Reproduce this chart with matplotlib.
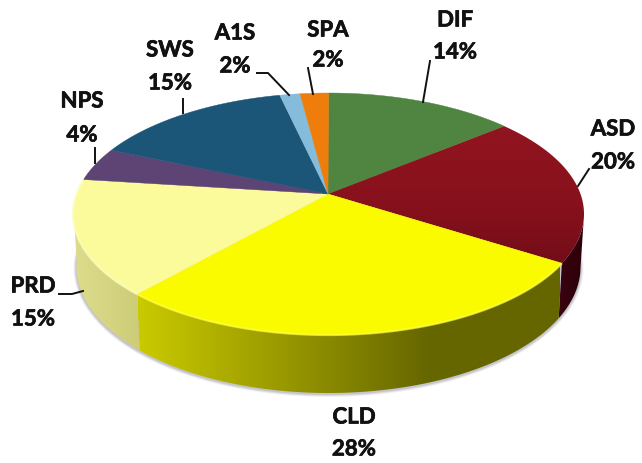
import numpy as np
import matplotlib
matplotlib.use("Agg")
import matplotlib.pyplot as plt
import matplotlib.patheffects as pe
from matplotlib.patches import Polygon
from matplotlib.colors import LinearSegmentedColormap

# slices clockwise from the top
names = ["DIF", "ASD", "CLD", "PRD", "NPS", "SWS", "A1S", "SPA"]
values = [14.0, 20.0, 27.6, 15.4, 4.49, 14.9, 1.5, 2.1]
pct_labels = ["14%", "20%", "28%", "15%", "4%", "15%", "2%", "2%"]
colors = ["#4f8540", "#8f1420", "#fbfb00", "#fbfb9c", "#5e4474", "#1b5578", "#85bcdc", "#ee7d0b"]

# label centres (name y, pct y) and leader lines
label_pos = {"DIF": (455, 20, 52), "ASD": (613, 129, 162), "CLD": (354, 417, 449),
             "PRD": (33, 286, 319), "NPS": (82, 101, 135), "SWS": (170, 50, 83),
             "A1S": (235, 33, 66), "SPA": (328, 30, 60)}
leaders = [[(430, 61), (423, 102)], [(589, 169), (578, 186)], [(308, 68), (313, 94)],
           [(257, 73), (268, 73), (289, 95)], [(183, 99), (183, 113)],
           [(95, 148), (95, 163)], [(59, 294), (72, 294), (83, 291)]]

# ellipse geometry
cx, cy, a, b = 328.5, 214, 255.5, 121
cx2, cy2, a2, b2 = 328.5, 267, 252, 126
d = 0.165  # pie centre sits above the ellipse centre (perspective)


def warp(theta):
    # true angle -> position on the unit ellipse
    x, y = np.sin(theta), np.cos(theta)
    den = 1 + d * y
    return x * np.sqrt(1 - d ** 2) / den, (y + d) / den


def top_pts(u, v):
    return np.column_stack([cx + a * u, cy - b * v])


def bottom_pts(u, v):
    return np.column_stack([cx2 + a2 * u, cy2 - b2 * v])


def gradient(ax, poly, stops, lims, horizontal=True, z=2):
    cmap = LinearSegmentedColormap.from_list("g", stops)
    grad = np.linspace(0, 1, 256)
    if horizontal:
        img = grad[None, :]
        ext = (lims[0], lims[1], 463, 0)
    else:
        img = grad[:, None]
        ext = (0, 642, lims[1], lims[0])
    im = ax.imshow(img, cmap=cmap, extent=ext, aspect="auto", zorder=z, origin="upper")
    patch = Polygon(poly, closed=True, fc="none", ec="none", transform=ax.transData)
    ax.add_patch(patch)
    im.set_clip_path(patch)


fig = plt.figure(figsize=(6.42, 4.63), dpi=100)
ax = fig.add_axes([0, 0, 1, 1])

edges = np.cumsum([0] + values) / sum(values) * 2 * np.pi

# soft shadow under the wall
t = np.linspace(0, 2 * np.pi, 300)
for grow, alpha in [(3, 0.08), (2, 0.12), (1, 0.18)]:
    ax.add_patch(Polygon(np.column_stack([cx2 + (a2 + grow) * np.sin(t), cy2 + 1 - (b2 + grow) * np.cos(t)]),
                         closed=True, fc="#555566", ec="none", alpha=alpha, zorder=1))

# side walls, params on the ellipse
wall_stops = {
    "ASD": (["#3a0410", "#2c0008"], (555, 585)),
    "CLD": ([(0, "#caca00"), (0.43, "#8c8c00"), (0.69, "#666600"), (1, "#666600")], (138, 560)),
    "PRD": (["#dcdc8c", "#cdcd78"], (75, 140)),
}
for i, name in enumerate(names):
    if name not in wall_stops:
        continue
    u, v = warp(np.linspace(edges[i], edges[i + 1], 120))
    keep = v < 0.05
    u, v = u[keep], v[keep]
    if name == "ASD":
        # only the part below the right extreme shows
        keep = v <= 0
        u, v = u[keep], v[keep]
    poly = np.vstack([top_pts(u, v), bottom_pts(u, v)[::-1]])
    stops, lims = wall_stops[name]
    gradient(ax, poly, stops, lims, True, z=2)

# top face
for i, name in enumerate(names):
    th = np.linspace(edges[i], edges[i + 1], 120)
    u, v = warp(th)
    poly = np.vstack([[(328, 194)], top_pts(u, v)])
    if name == "ASD":
        gradient(ax, poly, ["#921520", "#86111c", "#6a0b16"], (125, 290), False, z=3)
    else:
        ax.add_patch(Polygon(poly, closed=True, fc=colors[i], ec=colors[i], lw=0.3, zorder=3))

# light rim along the front edge
for name, col in [("CLD", "#ffff40"), ("PRD", "#fdfdc0")]:
    i = names.index(name)
    u, v = warp(np.linspace(edges[i], edges[i + 1], 120))
    pts = top_pts(u, v)
    ax.plot(pts[:, 0], pts[:, 1], color=col, lw=1.6, alpha=0.7, zorder=4, solid_capstyle="butt")

for line in leaders:
    xs, ys = zip(*line)
    ax.plot(xs, ys, color="#111111", lw=1.4, zorder=5)

stroke = [pe.withStroke(linewidth=0.5, foreground="#111111")]
for name, pct in zip(names, pct_labels):
    x, y1, y2 = label_pos[name]
    for txt, y in [(name, y1), (pct, y2)]:
        ax.text(x, y, txt, ha="center", va="center", fontsize=16, fontweight="bold",
                family="Lato", color="#111111", zorder=6, path_effects=stroke)

ax.set_xlim(0, 642)
ax.set_ylim(463, 0)
ax.axis("off")
fig.savefig("out.png", dpi=100)
